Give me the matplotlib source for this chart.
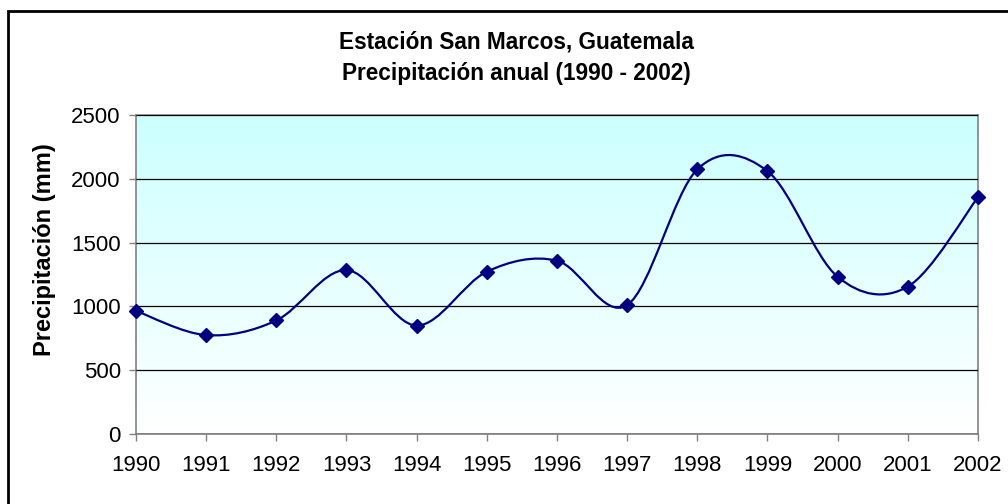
import matplotlib.pyplot as plt
from matplotlib.path import Path
from matplotlib.patches import PathPatch, Rectangle
import numpy as np

years = [1990, 1991, 1992, 1993, 1994, 1995, 1996, 1997, 1998, 1999, 2000, 2001, 2002]
precip = [965, 775, 890, 1285, 850, 1272, 1358, 1010, 2074, 2060, 1232, 1155, 1855]

title = "Estación San Marcos, Guatemala\nPrecipitación anual (1990 - 2002)"
ylabel = "Precipitación (mm)"

plt.rcParams["font.family"] = ["Liberation Sans", "DejaVu Sans"]


def excel_smooth_path(x, y):
    """Bezier path through the points, like Excel's smoothed line."""
    pts = np.column_stack([x, y]).astype(float)
    n = len(pts)
    verts = [pts[0]]
    codes = [Path.MOVETO]
    for i in range(n - 1):
        p0 = pts[max(i - 1, 0)]
        p1 = pts[i]
        p2 = pts[i + 1]
        p3 = pts[min(i + 2, n - 1)]
        c1 = p1 + (p2 - p0) / 6
        c2 = p2 - (p3 - p1) / 6
        verts += [c1, c2, p2]
        codes += [Path.CURVE4] * 3
    return Path(verts, codes)


fig = plt.figure(figsize=(10.08, 5.04), dpi=100)
ax = fig.add_axes([0.1349, 0.1389, 0.8353, 0.6329])

x = np.arange(len(years))
ax.set_xlim(0, len(years) - 1)
ax.set_ylim(0, 2500)

# gradient background: light cyan at top fading to white
grad = np.linspace(0, 1, 256).reshape(-1, 1)
top = np.array([0.80, 1.0, 1.0])
bottom = np.array([1.0, 1.0, 1.0])
img = bottom + (top - bottom) * grad
img = np.clip(img, 0, 1)
ax.imshow(img[:, None, :].repeat(2, axis=1), extent=[0, len(years) - 1, 0, 2500],
          origin="lower", aspect="auto", zorder=0)

ax.set_yticks(range(0, 2501, 500))
ax.yaxis.grid(True, color="black", linewidth=0.9, zorder=1)
ax.set_axisbelow(False)

ax.add_patch(PathPatch(excel_smooth_path(x, precip), facecolor="none",
                       edgecolor="#000080", linewidth=1.6, zorder=3))
ax.plot(x, precip, linestyle="none", marker="D", markersize=7.5,
        color="#000080", zorder=4, clip_on=False)

ax.set_xticks(x)
ax.set_xticklabels([str(v) for v in years])
ax.tick_params(axis="both", color="#808080", length=5, width=1)
ax.tick_params(axis="y", labelsize=16, pad=6)
ax.tick_params(axis="x", labelsize=16, pad=10)

for s in ax.spines.values():
    s.set_color("#808080")
    s.set_linewidth(1.2)

ax.set_ylabel(ylabel, fontsize=17, fontweight="bold")
ax.yaxis.set_label_coords(45 / 1008, (504 - 250) / 504, transform=fig.transFigure)
ax.yaxis.label.set_verticalalignment("center")
fig.text(0.512, 0.885, title, ha="center", va="center", fontsize=16.3,
         fontweight="bold", linespacing=1.45)

# chart frame
fig.patches.append(Rectangle((8 / 1008, -0.05), 1.1, 0.05 + (504 - 11) / 504,
                             transform=fig.transFigure, fill=False,
                             edgecolor="black", linewidth=2))

fig.savefig("out.png", dpi=100)
